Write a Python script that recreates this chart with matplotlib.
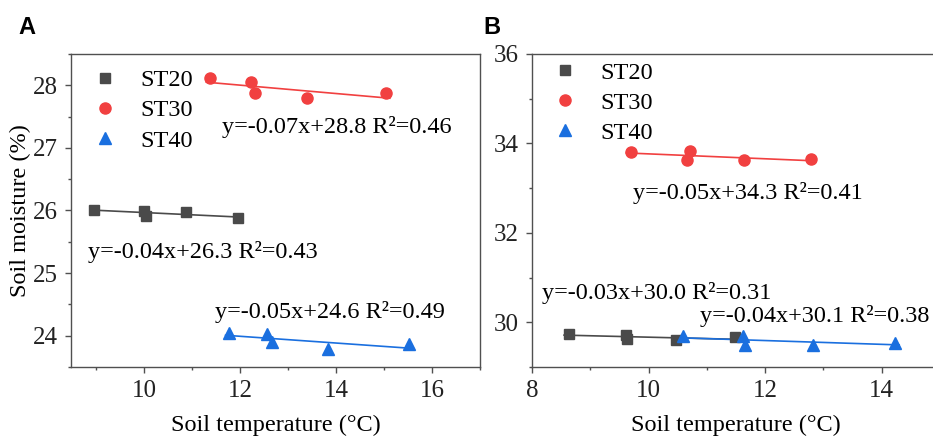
import numpy as np
import matplotlib
matplotlib.use('Agg')
import matplotlib.pyplot as plt
from matplotlib.ticker import MultipleLocator

# ---- panel A data (soil temperature vs soil moisture) ----
a_st20_x = [8.96, 10.00, 10.04, 10.87, 11.96]
a_st20_y = [26.01, 25.99, 25.91, 25.98, 25.88]
a_st30_x = [11.38, 12.23, 12.31, 13.39, 15.04]
a_st30_y = [28.12, 28.06, 27.87, 27.80, 27.87]
a_st40_x = [11.78, 12.56, 12.66, 13.84, 15.53]
a_st40_y = [24.04, 24.03, 23.90, 23.78, 23.86]
a_eqs = ['y=-0.04x+26.3 R²=0.43', 'y=-0.07x+28.8 R²=0.46', 'y=-0.05x+24.6 R²=0.49']

# ---- panel B data ----
b_st20_x = [8.63, 9.62, 9.63, 10.47, 11.48]
b_st20_y = [29.74, 29.72, 29.62, 29.60, 29.66]
b_st30_x = [9.70, 10.71, 10.66, 11.63, 12.78]
b_st30_y = [33.81, 33.82, 33.63, 33.62, 33.65]
b_st40_x = [10.59, 11.62, 11.65, 12.82, 14.22]
b_st40_y = [29.69, 29.69, 29.50, 29.50, 29.54]
b_eqs = ['y=-0.03x+30.0 R²=0.31', 'y=-0.05x+34.3 R²=0.41', 'y=-0.04x+30.1 R²=0.38']

labels = ['ST20', 'ST30', 'ST40']
colors = ['#4a4a4a', '#f14040', '#1a6fdf']
markers = ['s', 'o', '^']
msizes = [7.5, 8, 8.5]

plt.rcParams['font.family'] = 'Liberation Serif'
plt.rcParams['font.size'] = 17

fig = plt.figure(figsize=(9.33, 4.41), dpi=100)
axA = fig.add_axes([0.0761, 0.1678, 0.4384, 0.7098])
axB = fig.add_axes([0.5702, 0.1678, 0.4373, 0.7098])


def draw_panel(ax, xs, ys, leg_anchor):
    # scatter points + linear fit for each depth
    for i in range(3):
        ax.plot(xs[i], ys[i], ls='none', marker=markers[i], ms=msizes[i],
                color=colors[i], label=labels[i], zorder=3)
        k, b = np.polyfit(xs[i], ys[i], 1)
        xx = np.array([min(xs[i]) - 0.08, max(xs[i]) + 0.08])
        ax.plot(xx, k * xx + b, color=colors[i], lw=1.2, zorder=2)
    for sp in ax.spines.values():
        sp.set_color('#505050')
        sp.set_linewidth(1.0)
    ax.tick_params(which='major', direction='out', length=4, width=1,
                   color='#505050', labelsize=18, pad=5.5, labelcolor='#222222')
    ax.tick_params(which='minor', direction='out', length=2.5, width=1,
                   color='#505050')
    ax.legend(loc='upper left', bbox_to_anchor=leg_anchor, frameon=False,
              fontsize=17.5, handletextpad=0.45, labelspacing=0.33,
              borderaxespad=0.3, handlelength=2.0)


draw_panel(axA, [a_st20_x, a_st30_x, a_st40_x], [a_st20_y, a_st30_y, a_st40_y],
           (-0.017, 1.005))
axA.set_xlim(8.48, 17.0)
axA.set_ylim(23.5, 28.5)
axA.xaxis.set_major_locator(MultipleLocator(2))
axA.xaxis.set_minor_locator(MultipleLocator(1))
axA.yaxis.set_major_locator(MultipleLocator(1))
axA.yaxis.set_minor_locator(MultipleLocator(0.5))
axA.text(8.83, 25.34, a_eqs[0], ha='left', va='center', fontsize=17.5)
axA.text(11.62, 27.33, a_eqs[1], ha='left', va='center', fontsize=17.5)
axA.text(11.48, 24.38, a_eqs[2], ha='left', va='center', fontsize=17.5)
axA.set_xlabel('Soil temperature (°C)', fontsize=17.5, labelpad=9)
axA.set_ylabel('Soil moisture (%)', fontsize=17.5, labelpad=1)

draw_panel(axB, [b_st20_x, b_st30_x, b_st40_x], [b_st20_y, b_st30_y, b_st40_y],
           (-0.02, 1.03))
axB.set_xlim(8, 15)
axB.set_ylim(29, 36)
axB.xaxis.set_major_locator(MultipleLocator(2))
axB.xaxis.set_minor_locator(MultipleLocator(1))
axB.yaxis.set_major_locator(MultipleLocator(2))
axB.yaxis.set_minor_locator(MultipleLocator(1))
axB.text(8.17, 30.65, b_eqs[0], ha='left', va='center', fontsize=17.5)
axB.text(9.74, 32.89, b_eqs[1], ha='left', va='center', fontsize=17.5)
axB.text(10.88, 30.13, b_eqs[2], ha='left', va='center', fontsize=17.5)
axB.set_xlabel('Soil temperature (°C)', fontsize=17.5, labelpad=9)

# panel letters
fig.text(18 / 933, 1 - 28 / 441, 'A', family='Liberation Sans', weight='bold',
         fontsize=17, va='center', ha='left')
fig.text(483 / 933, 1 - 28 / 441, 'B', family='Liberation Sans', weight='bold',
         fontsize=17, va='center', ha='left')

fig.savefig('out.png', dpi=100)
